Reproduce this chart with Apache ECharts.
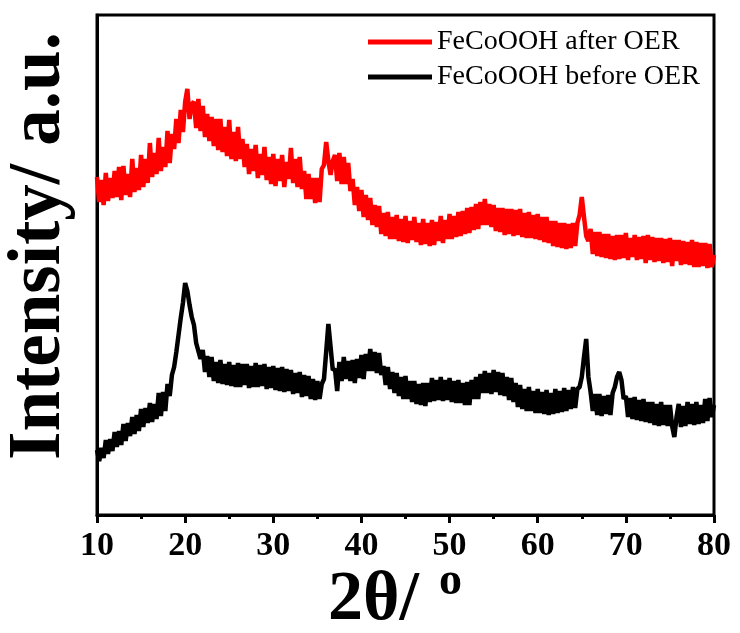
<!DOCTYPE html>
<html>
<head>
<meta charset="utf-8">
<script src="https://cdn.jsdelivr.net/npm/echarts@6/dist/echarts.min.js"></script>
<style>
	html, body { margin: 0; padding: 0; background: #fff; }
	#main { width: 740px; height: 633px; }
</style>
</head>
<body>
<div id="main"></div>
<script>
// 2θ sampling grid, 10° .. 80° every 0.25°
const twoTheta = [];
for (let i = 0; i <= 280; i++) twoTheta.push(10 + i * 0.25);

const seriesNames = ["FeCoOOH after OER", "FeCoOOH before OER"];
const xTicks = [10, 20, 30, 40, 50, 60, 70, 80];

// intensity (a.u.)
const afterOER = [
	340, 315, 337, 312, 344, 316, 339, 319, 346, 320, 350, 317, 351, 322, 343, 320,
	358, 325, 349, 327, 362, 330, 358, 334, 374, 340, 364, 343, 379, 346, 370, 350,
	386, 354, 383, 368, 398, 374, 407, 385, 415, 428, 398, 413, 415, 389, 418, 386,
	411, 380, 403, 376, 400, 371, 398, 367, 398, 365, 390, 361, 397, 358, 385, 356,
	390, 358, 378, 350, 373, 343, 368, 346, 372, 339, 363, 342, 370, 337, 360, 333,
	363, 331, 358, 336, 362, 330, 355, 338, 369, 334, 358, 330, 360, 328, 346, 318,
	343, 318, 339, 314, 339, 315, 348, 352, 375, 356, 342, 356, 362, 336, 364, 333,
	360, 333, 354, 326, 338, 312, 330, 306, 327, 300, 322, 297, 319, 292, 312, 290,
	311, 283, 304, 281, 305, 278, 300, 278, 302, 276, 298, 275, 301, 274, 296, 277,
	300, 275, 294, 272, 298, 273, 294, 271, 297, 272, 295, 276, 301, 274, 297, 278,
	303, 278, 301, 280, 305, 281, 306, 283, 309, 284, 310, 287, 313, 288, 315, 292,
	318, 292, 313, 290, 312, 286, 309, 285, 309, 282, 308, 283, 308, 281, 307, 282,
	308, 280, 304, 279, 305, 279, 302, 278, 303, 277, 300, 275, 300, 274, 296, 271,
	296, 270, 294, 269, 294, 268, 293, 269, 294, 271, 294, 302, 320, 300, 281, 276,
	288, 263, 285, 261, 285, 260, 283, 259, 283, 258, 281, 257, 282, 258, 282, 259,
	284, 257, 279, 260, 282, 257, 280, 258, 281, 254, 282, 257, 280, 255, 279, 256,
	279, 254, 278, 255, 279, 251, 277, 256, 277, 252, 276, 253, 275, 252, 277, 250,
	275, 250, 274, 251, 274, 249, 273, 250, 262
];

const beforeOER = [
	67, 56, 69, 59, 77, 63, 78, 66, 85, 70, 86, 72, 93, 76, 94, 81,
	100, 83, 102, 86, 108, 90, 109, 94, 114, 95, 113, 98, 124, 101, 125, 106,
	133, 121, 142, 150, 165, 182, 199, 214, 234, 226, 212, 200, 192, 174, 166, 158,
	167, 145, 161, 140, 160, 136, 155, 134, 157, 133, 153, 132, 155, 131, 152, 130,
	154, 130, 153, 132, 153, 129, 151, 130, 154, 130, 152, 131, 153, 128, 150, 129,
	151, 127, 149, 126, 150, 125, 148, 126, 147, 123, 144, 124, 145, 120, 142, 121,
	141, 118, 138, 117, 136, 118, 133, 138, 165, 193, 170, 147, 148, 126, 155, 136,
	160, 138, 156, 136, 157, 134, 158, 139, 162, 138, 163, 146, 168, 146, 165, 144,
	164, 142, 151, 132, 150, 128, 145, 124, 144, 121, 140, 118, 141, 118, 136, 115,
	136, 113, 133, 112, 134, 111, 134, 115, 139, 116, 137, 117, 140, 116, 137, 117,
	139, 115, 136, 114, 137, 114, 134, 112, 135, 112, 137, 118, 140, 118, 143, 124,
	146, 124, 144, 123, 147, 125, 145, 122, 144, 121, 140, 117, 139, 115, 134, 110,
	132, 108, 128, 106, 130, 106, 126, 104, 128, 104, 125, 103, 127, 102, 124, 103,
	128, 104, 126, 105, 129, 106, 127, 108, 130, 109, 128, 130, 140, 160, 178, 140,
	125, 106, 123, 102, 123, 101, 121, 103, 122, 102, 124, 130, 140, 145, 137, 118,
	121, 100, 119, 98, 120, 97, 117, 96, 118, 95, 115, 94, 115, 92, 113, 91,
	115, 92, 112, 91, 112, 91, 80, 100, 113, 90, 111, 91, 115, 93, 113, 92,
	115, 93, 112, 94, 118, 96, 119, 100, 112
];

const serif = '"Times New Roman", "Liberation Serif", serif';
const chart = echarts.init(document.getElementById("main"));

const option = {
	animation: false,
	backgroundColor: "#fff",
	grid: {
		left: 97,
		right: 26,
		top: 15,
		bottom: 118,
		show: true,
		borderColor: "#000",
		borderWidth: 3,
	},
	legend: {
		data: seriesNames,
		orient: "vertical",
		left: 368,
		top: 28,
		padding: 0,
		itemGap: 7,
		icon: "rect",
		itemWidth: 64,
		itemHeight: 5,
		textStyle: { fontFamily: serif, fontSize: 28, color: "#000" },
	},
	xAxis: {
		type: "value",
		min: xTicks[0],
		max: xTicks[xTicks.length - 1],
		interval: 10,
		axisLine: { lineStyle: { color: "#000", width: 3 } },
		axisTick: { length: 8, lineStyle: { color: "#000", width: 3 } },
		minorTick: { show: true, splitNumber: 2, length: 4, lineStyle: { color: "#000", width: 3 } },
		axisLabel: {
			fontFamily: serif,
			fontWeight: "bold",
			fontSize: 34,
			color: "#000",
			margin: 14,
		},
		splitLine: { show: false },
	},
	yAxis: {
		type: "value",
		min: 2,
		max: 502,
		axisLine: { show: true, lineStyle: { color: "#000", width: 3 } },
		axisTick: { show: false },
		axisLabel: { show: false },
		splitLine: { show: false },
	},
	series: [
		{
			name: seriesNames[0],
			type: "line",
			symbol: "none",
			color: "#ff0000",
			lineStyle: { width: 4.5 },
			data: twoTheta.map((t, i) => [t, afterOER[i]]),
		},
		{
			name: seriesNames[1],
			type: "line",
			symbol: "none",
			color: "#000",
			lineStyle: { width: 4.5 },
			data: twoTheta.map((t, i) => [t, beforeOER[i]]),
		},
	],
	graphic: [
		{
			type: "text",
			x: 40,
			y: 246,
			rotation: Math.PI / 2,
			style: {
				text: "Intensity/ a.u.",
				font: `bold 73px ${serif}`,
				fill: "#000",
				textAlign: "center",
				textVerticalAlign: "middle",
			},
		},
		{
			type: "text",
			x: 328,
			y: 601,
			style: {
				text: "2θ/",
				font: `bold 70px ${serif}`,
				fill: "#000",
				textAlign: "left",
				textVerticalAlign: "middle",
			},
		},
		{
			type: "text",
			x: 439,
			y: 582,
			style: {
				text: "o",
				font: `bold 46px ${serif}`,
				fill: "#000",
				textAlign: "left",
				textVerticalAlign: "middle",
			},
		},
	],
};

chart.setOption(option);
</script>
</body>
</html>
